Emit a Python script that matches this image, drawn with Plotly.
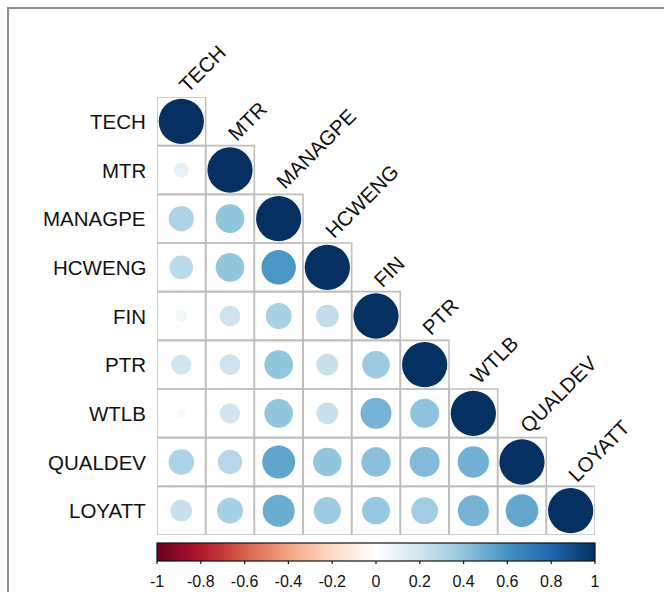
import plotly.graph_objects as go
import numpy as np

variables = ["TECH", "MTR", "MANAGPE", "HCWENG", "FIN", "PTR", "WTLB", "QUALDEV", "LOYATT"]

# lower-triangle correlation values (row i, columns 0..i)
corr_rows = [
    [1.00],
    [0.11, 1.00],
    [0.31, 0.40, 1.00],
    [0.27, 0.40, 0.58, 1.00],
    [0.06, 0.21, 0.33, 0.25, 1.00],
    [0.20, 0.21, 0.40, 0.23, 0.37, 1.00],
    [0.04, 0.20, 0.40, 0.23, 0.47, 0.41, 1.00],
    [0.32, 0.29, 0.53, 0.40, 0.42, 0.44, 0.48, 1.00],
    [0.23, 0.33, 0.50, 0.36, 0.38, 0.35, 0.47, 0.52, 1.00],
]

colorbar_ticks = [-1, -0.8, -0.6, -0.4, -0.2, 0, 0.2, 0.4, 0.6, 0.8, 1]
colorbar_ticktext = ["-1", "-0.8", "-0.6", "-0.4", "-0.2", "0", "0.2", "0.4", "0.6", "0.8", "1"]

rdbu = ["#67001F", "#B2182B", "#D6604D", "#F4A582", "#FDDBC7", "#FFFFFF",
        "#D1E5F0", "#92C5DE", "#4393C3", "#2166AC", "#053061"]
colorscale = [[i / (len(rdbu) - 1), c] for i, c in enumerate(rdbu)]

W, H = 664, 592
ML, MR, MT, MB = 157, 69, 97, 57
n = len(variables)
plot_w = W - ML - MR
plot_h = H - MT - MB
cell_px = plot_w / n
FONT = "Liberation Sans, Arial, sans-serif"

xs, ys, vals = [], [], []
for i, row in enumerate(corr_rows):
    for j, v in enumerate(row):
        xs.append(j)
        ys.append(i)
        vals.append(v)
vals = np.array(vals)
sizes = cell_px * 0.93 * np.sqrt(np.abs(vals))

fig = go.Figure()

# cell grid (lower triangle)
for i, row in enumerate(corr_rows):
    for j in range(len(row)):
        fig.add_shape(type="rect", xref="x", yref="y",
                      x0=j - 0.5, x1=j + 0.5, y0=i - 0.5, y1=i + 0.5,
                      line=dict(color="#BEBEBE", width=1.6),
                      fillcolor="rgba(0,0,0,0)", layer="below")

cb_top = -8 / plot_h
cb_thick = 18
fig.add_trace(go.Scatter(
    x=xs, y=ys, mode="markers",
    marker=dict(size=sizes, color=vals, colorscale=colorscale, cmin=-1, cmax=1,
                line=dict(width=0), opacity=1,
                colorbar=dict(orientation="h", x=0.5, xanchor="center",
                              y=cb_top, yanchor="top",
                              len=1.0, lenmode="fraction",
                              thickness=cb_thick, thicknessmode="pixels",
                              outlinewidth=1.2, outlinecolor="#111111",
                              xpad=0, ypad=0,
                              tickvals=colorbar_ticks, ticktext=colorbar_ticktext,
                              ticks="outside", ticklen=7, tickcolor="rgba(0,0,0,0)",
                              tickfont=dict(size=16, color="#111111", family=FONT))),
    hoverinfo="skip", showlegend=False))

# small visible tick marks under the colour bar
cb_bottom = cb_top - cb_thick / plot_h
for t in colorbar_ticks:
    fig.add_shape(type="line", xref="paper", yref="paper",
                  x0=(t + 1) / 2, x1=(t + 1) / 2,
                  y0=cb_bottom, y1=cb_bottom - 3 / plot_h,
                  line=dict(color="#111111", width=1.2))

# row labels
for i, name in enumerate(variables):
    fig.add_annotation(x=-0.5, y=i, xref="x", yref="y", text=name, showarrow=False,
                       xanchor="right", yanchor="middle", xshift=-9,
                       font=dict(size=20.5, color="#111111", family=FONT))

# column labels (rotated, above the diagonal cells)
for j, name in enumerate(variables):
    fig.add_annotation(x=j, y=j - 0.5, xref="x", yref="y", text=name, showarrow=False,
                       textangle=-45, xanchor="left", yanchor="bottom",
                       xshift=-10, yshift=-2,
                       font=dict(size=20.5, color="#111111", family=FONT))

# outer frame
fig.add_shape(type="rect", xref="paper", yref="paper",
              x0=(8 - ML) / plot_w, x1=(720 - ML) / plot_w,
              y0=1 - (660 - MT) / plot_h, y1=1 + (MT - 8) / plot_h,
              line=dict(color="#8C8C8C", width=2), fillcolor="rgba(0,0,0,0)")

fig.update_layout(
    width=W, height=H,
    margin=dict(l=ML, r=MR, t=MT, b=MB, autoexpand=False),
    paper_bgcolor="white", plot_bgcolor="white",
    xaxis=dict(range=[-0.5, n - 0.5], showgrid=False, zeroline=False,
               showticklabels=False, ticks="", fixedrange=True),
    yaxis=dict(range=[n - 0.5, -0.5], showgrid=False, zeroline=False,
               showticklabels=False, ticks="", fixedrange=True),
    showlegend=False,
)

fig.write_html("out.html")
